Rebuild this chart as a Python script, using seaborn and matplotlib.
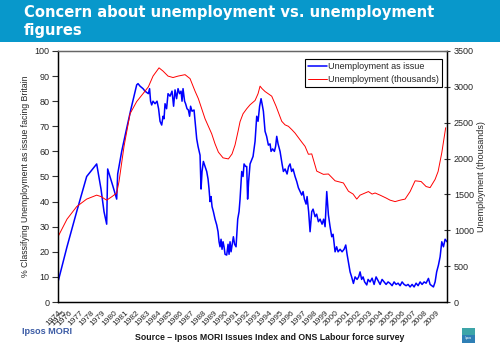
import matplotlib
matplotlib.use("Agg")
import matplotlib.pyplot as plt
import seaborn as sns
import pandas as pd
from matplotlib.patches import Rectangle
from matplotlib.ticker import MultipleLocator, FixedLocator

# ---------------- data ----------------
blue_years = [1975.00, 1975.81, 1976.68, 1977.58, 1978.48, 1978.87, 1979.14, 1979.38, 1979.47, 1979.68,
              1979.95, 1980.28, 1980.37, 1980.73, 1981.12, 1981.57, 1982.08, 1982.20, 1982.38, 1982.65,
              1982.83, 1983.13, 1983.24, 1983.33, 1983.43, 1983.55, 1983.73, 1983.91, 1984.05, 1984.18,
              1984.33, 1984.45, 1984.54, 1984.63, 1984.77, 1984.90, 1985.08, 1985.26, 1985.40, 1985.53,
              1985.67, 1985.80, 1985.94, 1986.07, 1986.16, 1986.25, 1986.39, 1986.48, 1986.61, 1986.73,
              1986.84, 1986.93, 1987.06, 1987.24, 1987.33, 1987.48, 1987.60, 1987.78, 1987.87, 1987.96,
              1988.08, 1988.23, 1988.38, 1988.50, 1988.59, 1988.68, 1988.77, 1988.86, 1988.98, 1989.13,
              1989.28, 1989.40, 1989.49, 1989.58, 1989.67, 1989.76, 1989.85, 1989.94, 1990.03, 1990.18,
              1990.30, 1990.39, 1990.48, 1990.57, 1990.78, 1990.89, 1991.02, 1991.17, 1991.29, 1991.38,
              1991.53, 1991.65, 1991.74, 1991.88, 1991.98, 1992.06, 1992.15, 1992.28, 1992.37, 1992.55,
              1992.73, 1992.88, 1993.00, 1993.14, 1993.27, 1993.36, 1993.48, 1993.54, 1993.63, 1993.77,
              1993.93, 1994.08, 1994.17, 1994.31, 1994.47, 1994.58, 1994.68, 1994.80, 1994.98, 1995.16,
              1995.28, 1995.43, 1995.61, 1995.75, 1995.88, 1996.02, 1996.15, 1996.33, 1996.48, 1996.63,
              1996.78, 1996.93, 1997.05, 1997.17, 1997.32, 1997.41, 1997.55, 1997.68, 1997.83, 1997.95,
              1998.13, 1998.27, 1998.43, 1998.58, 1998.76, 1998.90, 1999.03, 1999.18, 1999.33, 1999.48,
              1999.63, 1999.75, 1999.93, 2000.07, 2000.20, 2000.38, 2000.56, 2000.74, 2000.89, 2001.01,
              2001.13, 2001.28, 2001.42, 2001.58, 2001.73, 2001.91, 2002.05, 2002.18, 2002.32, 2002.45,
              2002.59, 2002.78, 2002.90, 2003.08, 2003.26, 2003.44, 2003.62, 2003.80, 2003.98, 2004.16,
              2004.34, 2004.52, 2004.70, 2004.88, 2005.06, 2005.24, 2005.42, 2005.60, 2005.78, 2005.96,
              2006.14, 2006.32, 2006.50, 2006.68, 2006.86, 2007.04, 2007.22, 2007.40, 2007.58, 2007.76,
              2007.94, 2008.12, 2008.33, 2008.48, 2008.78, 2008.93, 2009.07, 2009.23, 2009.38, 2009.53,
              2009.68, 2009.83, 2010.00]
blue_pct = [8, 22, 36, 50, 55, 45, 36, 31, 53, 50,
            46, 41, 51, 60, 68, 77, 86.5, 87, 86, 85,
            84, 83, 85, 80, 78.5, 80, 79, 80, 77, 72,
            70.5, 74, 73, 79, 77, 83, 82, 84, 78, 84.5,
            81, 85, 83, 84, 80, 85, 80, 79, 77, 76.5,
            74, 78, 76, 76.5, 72, 65, 62, 58.5, 45, 52,
            56, 54, 52, 49, 45, 40, 42, 38, 36, 33,
            30.7, 28, 24, 22, 25, 21, 24, 22, 19, 18.7,
            23, 19, 24, 20, 26, 23, 22, 33, 36, 41,
            52, 50, 55, 54, 54, 41, 48, 55, 56, 58,
            64, 74, 72, 78, 81, 79, 76, 73, 68, 66,
            62.5, 63, 60, 61, 60, 62, 66, 63, 60, 55,
            52, 53, 51, 54, 55, 52, 53, 50, 48, 45.5,
            44, 42.6, 44, 41, 39, 42, 36, 28, 36, 37,
            34, 35, 32, 33, 31, 33, 30, 44, 34.7, 30,
            26, 27, 20, 22, 20, 21, 20, 21, 22.7, 19,
            16, 12, 10, 7.4, 10, 9, 10, 12, 9, 10,
            8, 6.8, 9, 8, 9.5, 7, 10, 8.5, 7, 9,
            8, 7, 8, 7.4, 6.5, 8, 7, 7.5, 6.5, 8,
            7, 6.5, 7, 6, 7, 6, 7.5, 6.5, 8, 7,
            8, 7.5, 9.4, 7, 6, 8, 12, 14.7, 18, 24,
            22, 25, 24]

red_years = [1975.00, 1975.81, 1976.68, 1977.58, 1978.48, 1978.87, 1979.38, 1979.86, 1980.28, 1980.49,
             1980.94, 1981.48, 1982.08, 1982.65, 1983.13, 1983.55, 1984.09, 1984.45, 1984.90, 1985.35,
             1985.80, 1986.43, 1986.88, 1987.33, 1987.63, 1988.23, 1988.83, 1989.13, 1989.43, 1989.85,
             1990.33, 1990.66, 1990.93, 1991.20, 1991.38, 1991.65, 1991.98, 1992.28, 1992.73, 1993.00,
             1993.18, 1993.36, 1993.63, 1994.23, 1994.62, 1995.13, 1995.43, 1995.73, 1996.06, 1996.33,
             1996.93, 1997.23, 1997.53, 1997.83, 1998.28, 1998.88, 1999.33, 1999.93, 2000.68, 2001.13,
             2001.55, 2001.88, 2002.18, 2002.63, 2002.93, 2003.26, 2003.53, 2003.98, 2004.52, 2004.88,
             2005.33, 2005.78, 2006.23, 2006.68, 2007.13, 2007.67, 2008.12, 2008.48, 2008.93, 2009.20,
             2009.53, 2009.77, 2009.88]
red_thousands = [910, 1155, 1330, 1435, 1490, 1470, 1420, 1470, 1520, 1680,
                 2170, 2625, 2795, 2905, 3000, 3150, 3265, 3220, 3150, 3130,
                 3150, 3170, 3115, 2940, 2835, 2555, 2345, 2205, 2090, 2010,
                 1995, 2065, 2190, 2380, 2515, 2625, 2695, 2750, 2810, 2905,
                 3010, 2975, 2935, 2870, 2730, 2520, 2470, 2450, 2400, 2355,
                 2230, 2170, 2060, 2065, 1825, 1780, 1785, 1690, 1660, 1545,
                 1505, 1435, 1490, 1520, 1540, 1505, 1520, 1490, 1450, 1420,
                 1400, 1420, 1435, 1540, 1690, 1680, 1610, 1595, 1710, 1820,
                 2080, 2320, 2430]

tick_labels = [str(y) for y in range(1974, 2010)]
label_positions = [1975.0] + [1975.45] + list(range(1976, 2010))

title_line1 = "Concern about unemployment vs. unemployment"
title_line2 = "figures"
left_label = "% Classifying Unemployment as issue facing Britain"
right_label = "Unemployment (thousands)"
series_blue = "Unemployment as issue"
series_red = "Unemployment (thousands)"
source_text = "Source \u2013 Ipsos MORI Issues Index and ONS Labour force survey"

# ---------------- style ----------------
sns.set_style("white")
plt.rcParams['font.family'] = ['Liberation Sans', 'DejaVu Sans']

df_blue = pd.DataFrame({"year": blue_years, "pct": blue_pct})
df_red = pd.DataFrame({"year": red_years, "thousands": red_thousands})

W, H = 500, 346
fig = plt.figure(figsize=(W / 100, H / 100), dpi=100)
fig.patch.set_facecolor("white")

# banner
fig.patches.append(Rectangle((0, 1 - 42 / H), 1, 42 / H, transform=fig.transFigure,
                             facecolor="#0898CB", edgecolor="none", zorder=0))
fig.text(24 / W, 1 - 17.5 / H, title_line1, color="white", fontsize=10.6,
         fontweight="bold", family="DejaVu Sans", va="baseline", ha="left")
fig.text(24 / W, 1 - 35 / H, title_line2, color="white", fontsize=10.6,
         fontweight="bold", family="DejaVu Sans", va="baseline", ha="left")

ax = fig.add_axes([58 / W, 1 - 302 / H, 389 / W, 251 / H])
ax2 = ax.twinx()

sns.lineplot(data=df_blue, x="year", y="pct", ax=ax, color="#0000FF", lw=1.1,
             label=series_blue, estimator=None, sort=False)
sns.lineplot(data=df_red, x="year", y="thousands", ax=ax2, color="#FF0000", lw=0.7,
             label=series_red, estimator=None, sort=False)

ax.set_xlim(1975, 2010)
ax.set_ylim(0, 100)
ax2.set_ylim(0, 3500)
ax.yaxis.set_major_locator(MultipleLocator(10))
ax2.yaxis.set_major_locator(MultipleLocator(500))

ax.set_xticks(label_positions)
ax.set_xticklabels(tick_labels, rotation=45, ha="right", rotation_mode="anchor", fontsize=6)
ax.xaxis.set_minor_locator(FixedLocator(list(range(1975, 2011))))
ax.tick_params(axis="x", which="major", length=0, pad=5)
ax.tick_params(axis="x", which="minor", length=5, direction="inout", width=0.8, color="#444444")
ax.tick_params(axis="y", which="major", length=4, direction="out", width=0.8, labelsize=6.5,
               color="#333333", pad=2)
ax2.tick_params(axis="y", which="major", length=4, direction="inout", width=0.8, labelsize=6.5,
                color="#333333", pad=3)

ax.set_xlabel("")
ax.set_ylabel(left_label, fontsize=6.3, labelpad=3)
ax2.set_ylabel(right_label, fontsize=6.5, labelpad=2)

for a in (ax, ax2):
    for s in ("left", "right", "bottom"):
        a.spines[s].set_color("black")
        a.spines[s].set_linewidth(0.9)
    a.spines["top"].set_color("#666666")
    a.spines["top"].set_linewidth(0.9)

# legend
h1, l1 = ax.get_legend_handles_labels()
h2, l2 = ax2.get_legend_handles_labels()
if ax.get_legend():
    ax.get_legend().remove()
if ax2.get_legend():
    ax2.get_legend().remove()
leg = ax2.legend(h1 + h2, l1 + l2, loc="upper right", bbox_to_anchor=(0.987, 0.968),
                 borderaxespad=0, fontsize=6.5, frameon=True, fancybox=False,
                 handlelength=2.0, handletextpad=0.15, borderpad=0.35, labelspacing=0.45)
leg.get_frame().set_edgecolor("black")
leg.get_frame().set_linewidth(0.8)
leg.get_frame().set_alpha(1)

# footer
fig.text(22 / W, 1 - 334 / H, "Ipsos MORI", color="#3B5BA5", fontsize=6.6,
         fontweight="bold", va="baseline", ha="left")
fig.text(135 / W, 1 - 340 / H, source_text, color="#1a1a1a", fontsize=6.3,
         fontweight="bold", va="baseline", ha="left")
fig.patches.append(Rectangle((462 / W, 1 - 343 / H), 13 / W, 15 / H, transform=fig.transFigure,
                             facecolor="#2F7FB5", edgecolor="none"))
fig.patches.append(Rectangle((462 / W, 1 - 335 / H), 13 / W, 7 / H, transform=fig.transFigure,
                             facecolor="#3DA5A8", edgecolor="none"))
fig.text(468.5 / W, 1 - 338 / H, "Ipsos", color="white", fontsize=2.2, ha="center", va="center")

fig.savefig("out.png", dpi=100)
